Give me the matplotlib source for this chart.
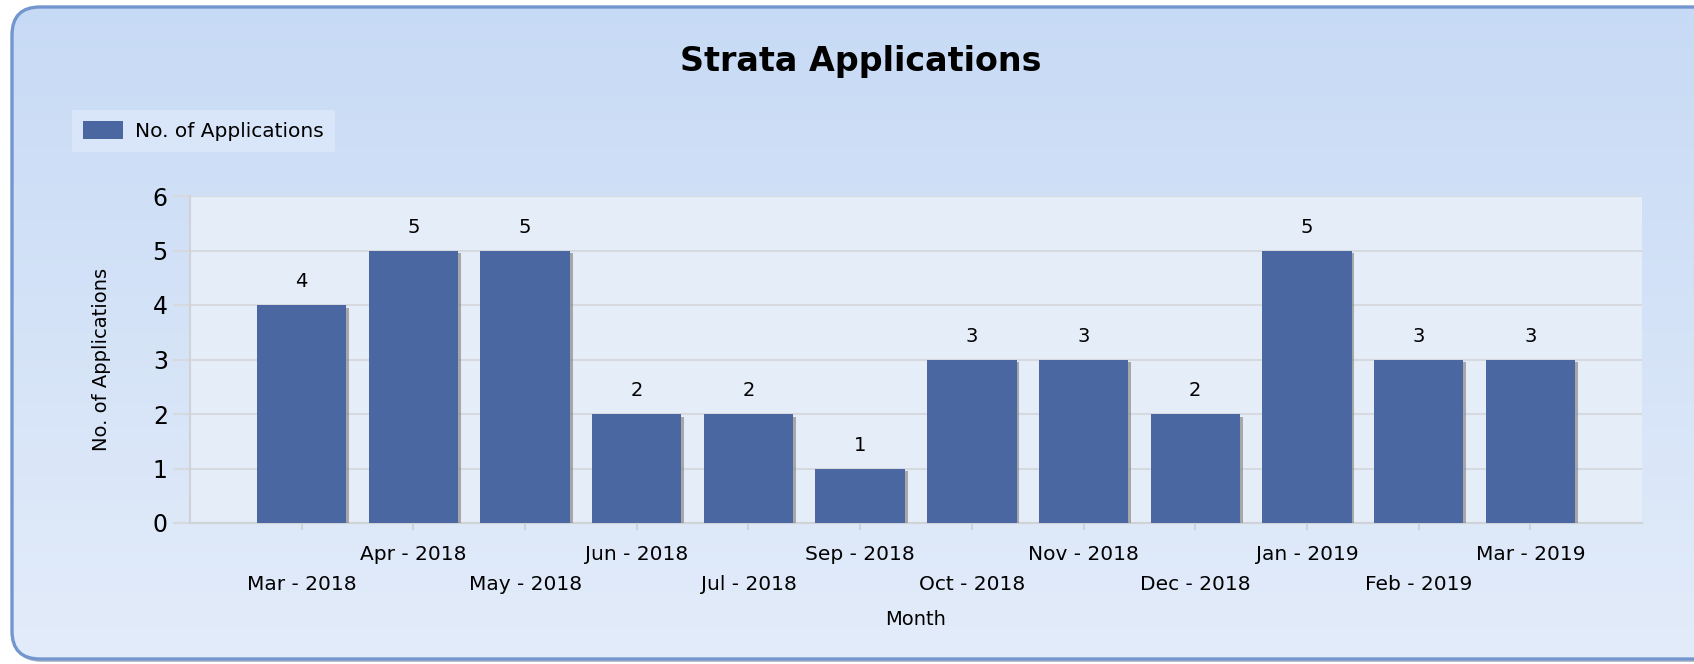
import numpy as np
import matplotlib
matplotlib.use("Agg")
import matplotlib.pyplot as plt
import matplotlib.patheffects as pe
from matplotlib.patches import FancyBboxPatch, Patch

months = ["Mar - 2018", "Apr - 2018", "May - 2018", "Jun - 2018", "Jul - 2018",
          "Sep - 2018", "Oct - 2018", "Nov - 2018", "Dec - 2018", "Jan - 2019",
          "Feb - 2019", "Mar - 2019"]
applications = [4, 5, 5, 2, 2, 1, 3, 3, 2, 5, 3, 3]

W, H = 1694, 664
bar_color = "#4a67a1"
grid_color = "#d6d9de"

plt.rcParams["font.family"] = ["DejaVu Sans"]
fig = plt.figure(figsize=(W / 100, H / 100), dpi=100)
fig.patch.set_facecolor("white")

# background frame with rounded corners and a soft vertical gradient
bg = fig.add_axes([0, 0, 1, 1], zorder=0)
bg.set_xlim(0, W)
bg.set_ylim(H, 0)
bg.axis("off")
shadow = FancyBboxPatch((14, 10), W + 20, H - 12,
                        boxstyle="round,pad=0,rounding_size=28",
                        facecolor="#b9bfc8", edgecolor="none", zorder=1)
bg.add_patch(shadow)
frame = FancyBboxPatch((12, 7), W + 20, H - 12,
                       boxstyle="round,pad=0,rounding_size=28",
                       facecolor="none", edgecolor="#7396cf", linewidth=2.4, zorder=3)
bg.add_patch(frame)
grad = np.linspace(0, 1, 256).reshape(-1, 1)
cmap = matplotlib.colors.LinearSegmentedColormap.from_list("bgc", ["#c7daf5", "#e3ecfa"])
img = bg.imshow(grad, cmap=cmap, extent=(0, W, H, 0), aspect="auto", zorder=2)
img.set_clip_path(frame)

# main chart area
left, right, top, bottom = 190, 1642, 196, 523
ax = fig.add_axes([left / W, 1 - bottom / H, (right - left) / W, (bottom - top) / H], zorder=2)
ax.set_facecolor("#e5edf9")

x = np.arange(len(months))
bars = ax.bar(x, applications, width=0.8, color=bar_color, zorder=3,
              label="No. of Applications")
for b in bars:
    b.set_path_effects([pe.SimplePatchShadow(offset=(2, -2), shadow_rgbFace="#8a8a8a",
                                             alpha=0.7), pe.Normal()])
ax.bar_label(bars, padding=10, fontsize=14)

ax.set_xlim(-1, len(months))
ax.set_ylim(0, 6)
ax.set_yticks(range(0, 7))
ax.grid(axis="y", color=grid_color, linewidth=1.5, zorder=0)

labels = [("\n" + m) if i % 2 == 0 else m for i, m in enumerate(months)]
ax.set_xticks(x)
ax.set_xticklabels(labels, fontsize=14.5)
for lbl in ax.get_xticklabels():
    lbl.set_linespacing(1.75)
ax.tick_params(axis="x", length=5, width=1.5, color="#cfd3d8", pad=11)
ax.tick_params(axis="y", length=12, width=1.5, color=grid_color, labelsize=17, pad=4)

for s in ["top", "right"]:
    ax.spines[s].set_visible(False)
for s in ["left", "bottom"]:
    ax.spines[s].set_color("#cfd3d8")
    ax.spines[s].set_linewidth(1.5)

ax.set_ylabel("No. of Applications", fontsize=14)
ax.yaxis.set_label_coords((111 - left) / (right - left), 0.5)
ax.set_xlabel("Month", fontsize=14)
ax.xaxis.set_label_coords(0.5, (bottom - 610) / (bottom - top))

fig.text(861 / W, 1 - 62 / H, "Strata Applications", ha="center", va="center",
         fontsize=24, fontweight="bold")

leg = fig.legend(handles=[Patch(facecolor=bar_color, label="No. of Applications")],
                 loc="upper left", bbox_to_anchor=(72 / W, 1 - 110 / H),
                 fontsize=14.5, frameon=True, fancybox=False, borderaxespad=0,
                 handlelength=2.0, handleheight=1.0, borderpad=0.55, handletextpad=0.6)
leg.get_frame().set_facecolor("#dde8f9")
leg.get_frame().set_edgecolor("none")

fig.savefig("out.png", dpi=100)
